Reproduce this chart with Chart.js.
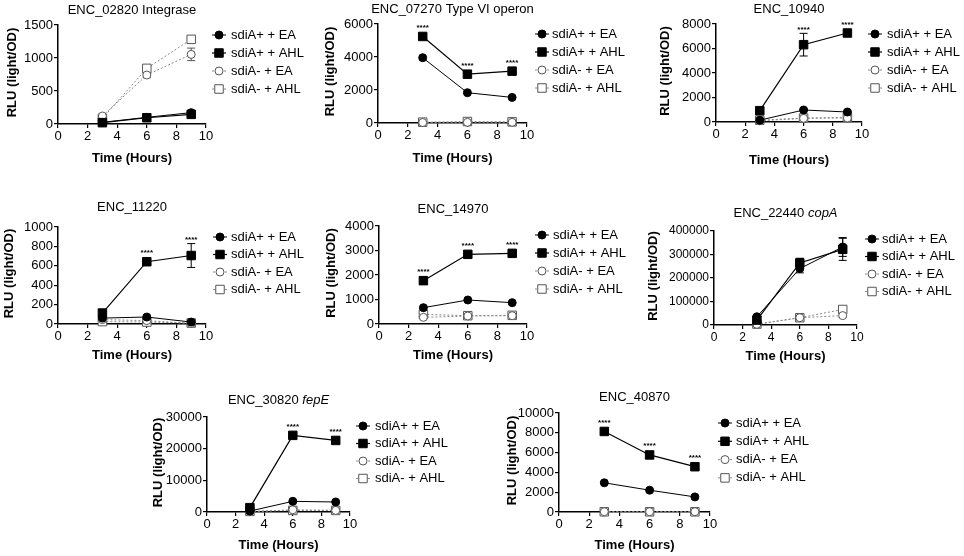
<!DOCTYPE html>
<html>
<head>
<meta charset="utf-8">
<script src="https://cdn.jsdelivr.net/npm/chart.js@4.4.1/dist/chart.umd.min.js"></script>
<style>
  html, body { margin: 0; padding: 0; background: #fff; }
  #wrap { position: relative; width: 964px; height: 556px; overflow: hidden; }
  #wrap canvas { position: absolute; left: 0; top: 0; }
</style>
</head>
<body>
<div id="wrap"></div>
<script>
// ---- datos (leídos a ojo del gráfico) ----
const times = [3, 6, 9];
const seriesNames = ['sdiA+ + EA', 'sdiA+ + AHL', 'sdiA- + EA', 'sdiA- + AHL'];

// cada panel: [sdiA+ EA, sdiA+ AHL, sdiA- EA, sdiA- AHL]
const enc02820 = [[25, 101, 172], [20, 95, 146], [121, 742, 1055], [86, 843, 1283]];
const enc07270 = [[3959, 1837, 1551], [5245, 2959, 3143], [30, 40, 40], [50, 90, 70]];
const enc10940 = [[150, 980, 816], [925, 6313, 7265], [100, 300, 330], [150, 320, 380]];
const enc11220 = [[61, 72, 20], [113, 642, 706], [45, 35, 5], [25, 20, 10]];
const enc14970 = [[667, 980, 871], [1769, 2844, 2884], [272, 327, 340], [395, 340, 354]];
const enc22440 = [[35000, 240000, 332000], [21000, 264000, 322000], [3000, 31000, 40000], [4000, 31000, 66000]];
const enc30820 = [[300, 3370, 3160], [1370, 24200, 22600], [100, 700, 500], [200, 500, 500]];
const enc40870 = [[2949, 2203, 1525], [8136, 5763, 4576], [30, 30, 30], [20, 20, 20]];

// barras de error (SEM aprox.)
const enc02820Err = [[0, 10, 15], [0, 10, 15], [15, 40, 95], [10, 30, 40]];
const enc07270Err = [[0, 0, 0], [120, 120, 120], [0, 0, 0], [0, 0, 0]];
const enc10940Err = [[0, 80, 60], [150, 925, 200], [0, 0, 0], [0, 0, 0]];
const enc11220Err = [[10, 12, 5], [30, 20, 123], [0, 0, 0], [0, 0, 0]];
const enc14970Err = [[0, 0, 0], [150, 80, 80], [60, 40, 50], [60, 40, 50]];
const enc22440Err = [[5000, 18000, 40000], [5000, 20000, 47000], [1000, 5000, 8000], [1000, 5000, 6000]];
const enc30820Err = [[0, 0, 0], [300, 600, 700], [0, 0, 0], [0, 0, 0]];
const enc40870Err = [[0, 0, 0], [200, 150, 150], [0, 0, 0], [0, 0, 0]];

// índices de tiempo con **** sobre sdiA+ + AHL
const enc02820Stars = [];
const enc07270Stars = [0, 1, 2];
const enc10940Stars = [1, 2];
const enc11220Stars = [1, 2];
const enc14970Stars = [0, 1, 2];
const enc22440Stars = [];
const enc30820Stars = [1, 2];
const enc40870Stars = [0, 1, 2];

const titles = [
    ['ENC_02820 Integrase', ''], ['ENC_07270 Type VI operon', ''], ['ENC_10940', ''],
    ['ENC_11220', ''], ['ENC_14970', ''], ['ENC_22440 ', 'copA'],
    ['ENC_30820 ', 'fepE'], ['ENC_40870', '']
];
const yMaxes = [1500, 6000, 8000, 1000, 4000, 400000, 30000, 10000];
const ySteps = [500, 2000, 2000, 200, 1000, 100000, 10000, 2000];
const xTitle = 'Time (Hours)';
const yTitle = 'RLU (light/OD)';

const panelData = [enc02820, enc07270, enc10940, enc11220, enc14970, enc22440, enc30820, enc40870];
const panelErr = [enc02820Err, enc07270Err, enc10940Err, enc11220Err, enc14970Err, enc22440Err, enc30820Err, enc40870Err];
const panelStars = [enc02820Stars, enc07270Stars, enc10940Stars, enc11220Stars, enc14970Stars, enc22440Stars, enc30820Stars, enc40870Stars];

// ---- posiciones en la página (px) ----
const layout = [
    { x0: 58, x1: 206, top: 25, zero: 124, titleY: 10, yTitleX: 12, xTitleY: 158, legX: 219, legTextX: 231, legY: 35, legStep: 18, tf: 13 },
    { x0: 378, x1: 527, top: 24, zero: 123, titleY: 9, yTitleX: 330, xTitleY: 158, legX: 542, legTextX: 552, legY: 34, legStep: 18, tf: 13 },
    { x0: 716, x1: 862, top: 24, zero: 122, titleY: 9, yTitleX: 665, xTitleY: 160, legX: 875, legTextX: 887, legY: 34, legStep: 18, tf: 13 },
    { x0: 58, x1: 206, top: 227, zero: 324, titleY: 207, yTitleX: 9, xTitleY: 355, legX: 220, legTextX: 231, legY: 237, legStep: 17.5, tf: 13 },
    { x0: 379, x1: 527, top: 226, zero: 324, titleY: 209, yTitleX: 331, xTitleY: 355, legX: 542, legTextX: 553, legY: 235, legStep: 18, tf: 13 },
    { x0: 714, x1: 857, top: 231, zero: 325, titleY: 213, yTitleX: 653, xTitleY: 356, legX: 872, legTextX: 882, legY: 239, legStep: 17.5, tf: 12 },
    { x0: 207, x1: 350, top: 417, zero: 512, titleY: 400, yTitleX: 158, xTitleY: 545, legX: 363, legTextX: 375, legY: 426, legStep: 17.5, tf: 13 },
    { x0: 559, x1: 710, top: 413, zero: 512, titleY: 397, yTitleX: 512, xTitleY: 545, legX: 725, legTextX: 736, legY: 423, legStep: 18.3, tf: 13 }
];

const W = 964, H = 556, YW = 50, XH = 20;
const FONT = '"Liberation Sans", Arial, Helvetica, sans-serif';
Chart.defaults.font.family = FONT;

const styles = [
    { shape: 'circle', r: 4, fill: '#000', edge: '#000', line: '#000', lw: 1, dash: [] },
    { shape: 'rect', r: 6, fill: '#000', edge: '#000', line: '#000', lw: 1.2, dash: [] },
    { shape: 'circle', r: 4, fill: '#fff', edge: '#555', line: '#888', lw: 1, dash: [2, 2] },
    { shape: 'rect', r: 6, fill: '#fff', edge: '#555', line: '#888', lw: 1, dash: [2, 2] }
];

function marker(ctx, st, x, y) {
    ctx.save();
    ctx.setLineDash([]);
    ctx.fillStyle = st.fill;
    ctx.strokeStyle = st.edge;
    ctx.lineWidth = 1;
    ctx.beginPath();
    if (st.shape === 'circle') {
        ctx.arc(x, y, st.r, 0, Math.PI * 2);
    } else {
        const h = st.r * Math.SQRT1_2;
        ctx.rect(x - h, y - h, 2 * h, 2 * h);
    }
    ctx.fill();
    ctx.stroke();
    ctx.restore();
}

// errores, títulos, leyenda y asteriscos
const deco = {
    id: 'deco',
    beforeDatasetsDraw(chart, args, opts) {
        const i = opts.idx, ctx = chart.ctx;
        const xs = chart.scales.x, ys = chart.scales.y;
        ctx.save();
        panelErr[i].forEach((errs, s) => {
            ctx.strokeStyle = s < 2 ? '#000' : '#555';
            ctx.lineWidth = 1;
            errs.forEach((e, j) => {
                if (!e) return;
                const v = panelData[i][s][j];
                const x = xs.getPixelForValue(times[j]);
                const y1 = ys.getPixelForValue(v + e), y2 = ys.getPixelForValue(Math.max(0, v - e));
                ctx.beginPath();
                ctx.moveTo(x, y1); ctx.lineTo(x, y2);
                ctx.moveTo(x - 4, y1); ctx.lineTo(x + 4, y1);
                ctx.moveTo(x - 4, y2); ctx.lineTo(x + 4, y2);
                ctx.stroke();
            });
        });
        ctx.restore();
    },
    afterDraw(chart, args, opts) {
        const i = opts.idx, L = layout[i], ctx = chart.ctx;
        const xs = chart.scales.x, ys = chart.scales.y;
        const cx = (L.x0 + L.x1) / 2;
        ctx.save();
        ctx.fillStyle = '#000';
        ctx.textBaseline = 'middle';

        // título (parte en cursiva si hay)
        const [plain, ital] = titles[i];
        ctx.font = '13px ' + FONT;
        const w1 = ctx.measureText(plain).width;
        ctx.font = 'italic 13px ' + FONT;
        const w2 = ctx.measureText(ital).width;
        let tx = cx - (w1 + w2) / 2;
        ctx.textAlign = 'left';
        ctx.font = '13px ' + FONT;
        ctx.fillText(plain, tx, L.titleY);
        ctx.font = 'italic 13px ' + FONT;
        ctx.fillText(ital, tx + w1, L.titleY);

        // títulos de ejes
        ctx.font = 'bold 13px ' + FONT;
        ctx.textAlign = 'center';
        ctx.fillText(xTitle, cx, L.xTitleY);
        ctx.save();
        ctx.translate(L.yTitleX, (L.top + L.zero) / 2 - 2);
        ctx.rotate(-Math.PI / 2);
        ctx.fillText(yTitle, 0, 0);
        ctx.restore();

        // leyenda
        seriesNames.forEach((name, s) => {
            const st = styles[s];
            const y = L.legY + s * L.legStep;
            ctx.save();
            ctx.strokeStyle = st.line;
            ctx.lineWidth = st.lw;
            ctx.setLineDash(st.dash);
            ctx.beginPath();
            ctx.moveTo(L.legX - 7, y); ctx.lineTo(L.legX + 7, y);
            ctx.stroke();
            ctx.restore();
            marker(ctx, st, L.legX, y);
            ctx.font = '13px ' + FONT;
            ctx.textAlign = 'left';
            ctx.fillStyle = '#000';
            ctx.fillText(name, L.legTextX, y);
        });

        // asteriscos sobre sdiA+ + AHL
        ctx.font = 'bold 8px ' + FONT;
        ctx.textAlign = 'center';
        ctx.textBaseline = 'alphabetic';
        panelStars[i].forEach(j => {
            const v = panelData[i][1][j], e = panelErr[i][1][j];
            const x = xs.getPixelForValue(times[j]);
            const py = ys.getPixelForValue(v);
            const topY = Math.min(ys.getPixelForValue(v + e), py - 5);
            ctx.fillText('****', x, topY - 6 + 4.5);
        });
        ctx.restore();
    }
};

const wrap = document.getElementById('wrap');
layout.forEach((L, i) => {
    const canvas = document.createElement('canvas');
    canvas.width = W; canvas.height = H;
    canvas.style.width = W + 'px'; canvas.style.height = H + 'px';
    wrap.appendChild(canvas);

    const datasets = panelData[i].map((vals, s) => {
        const st = styles[s];
        return {
            label: seriesNames[s],
            data: vals.map((v, j) => ({ x: times[j], y: v })),
            borderColor: st.line,
            borderWidth: st.lw,
            borderDash: st.dash,
            pointStyle: st.shape,
            pointRadius: st.r,
            pointBackgroundColor: st.fill,
            pointBorderColor: st.edge,
            pointBorderWidth: 1,
            tension: 0,
            clip: false
        };
    });

    const axisBase = {
        grid: { drawOnChartArea: false, color: '#000', tickLength: 4, lineWidth: 1.2 },
        border: { color: '#000', width: 1.5 }
    };

    new Chart(canvas.getContext('2d'), {
        type: 'line',
        data: { datasets },
        options: {
            responsive: false,
            animation: false,
            events: [],
            layout: { padding: { left: L.x0 - YW, right: W - L.x1, top: L.top, bottom: H - L.zero - XH } },
            plugins: { legend: { display: false }, tooltip: { enabled: false }, deco: { idx: i } },
            scales: {
                x: {
                    ...axisBase,
                    type: 'linear', min: 0, max: 10,
                    ticks: { stepSize: 2, color: '#000', font: { size: L.tf }, padding: 1, maxRotation: 0, autoSkip: false },
                    afterFit: s => { s.height = XH; }
                },
                y: {
                    ...axisBase,
                    min: 0, max: yMaxes[i],
                    ticks: { stepSize: ySteps[i], color: '#000', font: { size: L.tf }, padding: 1, autoSkip: false, callback: v => String(v) },
                    afterFit: s => { s.width = YW; }
                }
            }
        },
        plugins: [deco]
    });
});
</script>
</body>
</html>
